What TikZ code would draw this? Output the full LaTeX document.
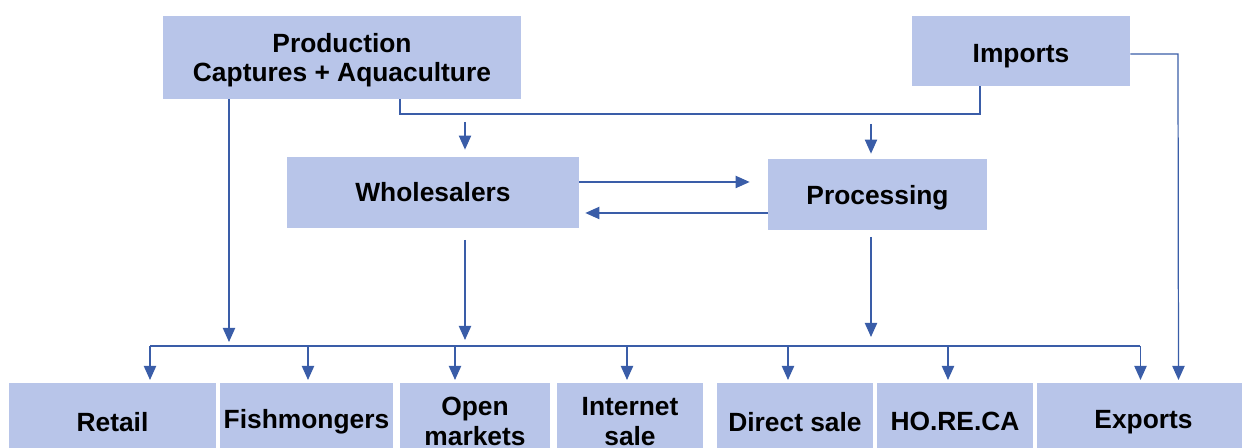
\documentclass[tikz,border=0pt]{standalone}
\usepackage{fontspec}
\setmainfont{Liberation Sans}
\usetikzlibrary{arrows.meta,positioning,calc}
\definecolor{boxfill}{HTML}{B8C5E9}
\definecolor{linkblue}{HTML}{3A5DA8}
\tikzset{
>={Triangle[width=7pt,length=8pt]},
  box/.style={
    rectangle,
    fill=boxfill,
    text centered,
    align=center,
    inner sep=0pt,
    font=\bfseries\fontsize{15}{17}\selectfont},
  link/.style={draw=linkblue, line width=0.7pt},
  arr/.style={link, ->, >={Triangle[width=7pt,length=8pt]}, color=linkblue},
}
\begin{document}
\begin{tikzpicture}[
    outlet/.style={box, anchor=north, minimum height=1.54cm},
    every node/.style={color=black}
    ]
    \useasboundingbox (0,0) rectangle (24.84,8.96);

    %sources
    \node[box, minimum width=7.16cm, minimum height=1.66cm] (prod) at (6.84,7.81)
        {\rule{0pt}{14pt}Production\\Captures + Aquaculture};
    \node[box, minimum width=4.36cm, minimum height=1.4cm, text height=16.3pt]
        (imports) at (20.42,7.94) {Imports};

    %middle
    \node[box, minimum width=5.84cm, minimum height=1.42cm] (whole) at (8.66,5.11)
        {Wholesalers};
    \node[box, minimum width=4.38cm, minimum height=1.42cm, text height=14.1pt]
        (proc) at (17.55,5.07) {Processing};

    %outlets
    \node[outlet, minimum width=4.14cm] (retail) at (2.25,1.30) {Retail};
    \node[outlet, minimum width=3.46cm] (fish) at (6.13,1.30) {Fishmongers};
    \node[outlet, minimum width=3.0cm] (openm) at (9.5,1.30) {Open\\markets};
    \node[outlet, minimum width=2.92cm] (inet) at (12.6,1.30) {Internet\\sale};
    \node[outlet, minimum width=3.12cm] (direct) at (15.9,1.30) {Direct sale};
    \node[outlet, minimum width=3.12cm] (horeca) at (19.1,1.30) {HO.RE.CA};
    \node[outlet, minimum width=4.26cm] (exports) at (22.87,1.30) {Exports};

    %joins
    \coordinate (joinL) at (8.0,6.68);
    \coordinate (joinR) at (19.6,6.68);
    \coordinate (busL) at (3.0,2.04);
    \coordinate (busR) at (22.8,2.04);
    \coordinate (impturn) at (23.56,7.88);

    \draw[link] (joinL |- prod.south) -- (joinL) -- (joinR) -- (joinR |- imports.south);
    \draw[arr] (9.3,6.52) -- ([yshift=0.14cm]whole.north -| 9.3,0);
    \draw[arr] (17.42,6.48) -- ([yshift=0.1cm]proc.north -| 17.42,0);

    \draw[arr] (whole.east |- 0,5.32) -- ([xshift=-0.36cm]proc.west |- 0,5.32);
    \draw[arr] (proc.west |- 0,4.70) -- ([xshift=0.12cm]whole.east |- 0,4.70);

    %to the bus
    \draw[link] (busL) -- (busR);
    \draw[arr] (prod.south -| 4.58,0) -- ([yshift=0.08cm]busL -| 4.58,0);
    \draw[arr] (9.3,4.16) -- ([yshift=0.12cm]busL -| 9.3,0);
    \draw[arr] (17.42,4.22) -- ([yshift=0.18cm]busL -| 17.42,0);

    %drops
    \foreach \n/\dx in {retail/0.75, fish/0.03, openm/-0.4, inet/-0.06,
        direct/-0.14, horeca/-0.14, exports/-0.06}
        \draw[arr, shorten >=0.06cm] ([xshift=\dx cm]\n.north |- busL) --
            ([xshift=\dx cm]\n.north);

    \draw[arr, shorten >=0.06cm] (imports.east |- impturn) -- (impturn) --
        ([xshift=0.7cm]exports.north);
\end{tikzpicture}
\end{document}
